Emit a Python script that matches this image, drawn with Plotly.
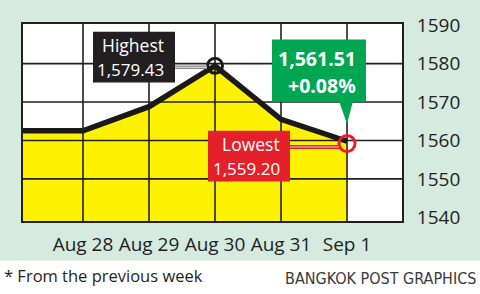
import plotly.graph_objects as go

# ---- data ----
categories = ["Aug 28", "Aug 29", "Aug 30", "Aug 31", "Sep 1"]
prev_week_close = 1562.5
values = [1562.5, 1568.8, 1579.43, 1565.5, 1559.8]
high_value = 1579.43
high_index = 2
low_value = 1559.20
low_index = 4
close_value = 1561.51
change_pct = 0.08
y_ticks = [1540, 1550, 1560, 1570, 1580, 1590]
grid_y = [1550, 1560, 1570, 1580]

# ---- layout constants ----
W, H = 480, 294
ML, MR, MT, MB = 23, 78, 16, 73
XMIN, XMAX = -0.909, 4.833
YMIN, YMAX = 1539.05, 1590.3
INK = "#231f20"
YELLOW = "#fff200"
RED = "#e4202a"
GREEN = "#00a651"
MINT = "#d5ebe0"
FONT = "Open Sans"

pw, ph = W - ML - MR, H - MT - MB
def px2x(px):
    return XMIN + (px - ML) / pw * (XMAX - XMIN)
def py2y(py):
    return YMAX - (py - MT) / ph * (YMAX - YMIN)
def px2paper(px):
    return (px - ML) / pw
def py2paper(py):
    return (H - MB - py) / ph

xs = [XMIN] + list(range(len(categories)))
ys = [prev_week_close] + values

fig = go.Figure()
# yellow area
fig.add_trace(go.Scatter(x=xs, y=ys, mode="lines", line=dict(width=0),
                         fill="tozeroy", fillcolor=YELLOW, hoverinfo="skip"))
# grid lines above fill
gx, gy = [], []
for i in range(len(categories)):
    gx += [i, i, None]
    gy += [YMIN, YMAX, None]
for v in grid_y:
    gx += [XMIN, XMAX, None]
    gy += [v, v, None]
fig.add_trace(go.Scatter(x=gx, y=gy, mode="lines", line=dict(color=INK, width=1.6),
                         hoverinfo="skip"))
# main line
fig.add_trace(go.Scatter(x=xs, y=ys, mode="lines",
                         line=dict(color="#1a1a1a", width=5.5)))
# high / low markers
fig.add_trace(go.Scatter(x=[high_index], y=[high_value], mode="markers",
                         marker=dict(symbol="circle-open", size=15, color="#1a1a1a",
                                     line=dict(width=3))))
fig.add_trace(go.Scatter(x=[low_index], y=[low_value], mode="markers",
                         marker=dict(symbol="circle-open", size=16, color=RED,
                                     line=dict(width=3))))

shapes = []
annotations = []
# Highest box
shapes.append(dict(type="line", xref="x", yref="y", x0=px2x(174), x1=px2x(207),
                   y0=high_value - 0.4, y1=high_value - 0.4,
                   line=dict(color="#8a8a8a", width=3.5), layer="above"))
shapes.append(dict(type="line", xref="x", yref="y", x0=px2x(174), x1=px2x(207),
                   y0=high_value - 0.4, y1=high_value - 0.4,
                   line=dict(color="#e8e8e8", width=1), layer="above"))
shapes.append(dict(type="rect", xref="x", yref="y", x0=px2x(93), x1=px2x(175),
                   y0=py2y(77), y1=py2y(24), fillcolor="#231f20", line=dict(width=0),
                   layer="above"))
annotations.append(dict(xref="x", yref="y", x=px2x(166), y=py2y(38), text="Highest",
                        xanchor="right", yanchor="middle", showarrow=False,
                        font=dict(family=FONT, size=17.5, color="white")))
annotations.append(dict(xref="x", yref="y", x=px2x(166), y=py2y(63),
                        text=f"{high_value:,.2f}",
                        xanchor="right", yanchor="middle", showarrow=False,
                        font=dict(family=FONT, size=17, color="white")))
# Lowest box
shapes.append(dict(type="line", xref="x", yref="y", x0=px2x(289), x1=px2x(340),
                   y0=py2y(144), y1=py2y(144),
                   line=dict(color=RED, width=4), layer="above"))
shapes.append(dict(type="line", xref="x", yref="y", x0=px2x(289), x1=px2x(339),
                   y0=py2y(144), y1=py2y(144),
                   line=dict(color="#ffd0b0", width=1), layer="above"))
shapes.append(dict(type="rect", xref="x", yref="y", x0=px2x(208), x1=px2x(290),
                   y0=py2y(180), y1=py2y(127), fillcolor=RED, line=dict(width=0),
                   layer="above"))
annotations.append(dict(xref="x", yref="y", x=px2x(282), y=py2y(141), text="Lowest",
                        xanchor="right", yanchor="middle", showarrow=False,
                        font=dict(family=FONT, size=17.5, color="white")))
annotations.append(dict(xref="x", yref="y", x=px2x(282), y=py2y(166),
                        text=f"{low_value:,.2f}",
                        xanchor="right", yanchor="middle", showarrow=False,
                        font=dict(family=FONT, size=17, color="white")))
# Close (green) box with pointer
shapes.append(dict(type="rect", xref="x", yref="y", x0=px2x(272), x1=px2x(366),
                   y0=py2y(97), y1=py2y(32), fillcolor=GREEN, line=dict(width=0),
                   layer="above"))
shapes.append(dict(type="path", xref="x", yref="y",
                   path=(f"M {px2x(339)},{py2y(96)} L {px2x(353)},{py2y(96)} "
                         f"L {low_index},{py2y(120)} Z"),
                   fillcolor=GREEN, line=dict(width=0), layer="above"))
annotations.append(dict(xref="x", yref="y", x=px2x(358), y=py2y(52),
                        text=f"<b>{close_value:,.2f}</b>",
                        xanchor="right", yanchor="middle", showarrow=False,
                        font=dict(family=FONT, size=19.5, color="white")))
annotations.append(dict(xref="x", yref="y", x=px2x(358), y=py2y(80),
                        text=f"<b>{change_pct:+.2f}%</b>",
                        xanchor="right", yanchor="middle", showarrow=False,
                        font=dict(family=FONT, size=19.5, color="white")))
# footer
shapes.append(dict(type="rect", xref="paper", yref="paper", x0=-0.3, x1=1.5,
                   y0=py2paper(262), y1=py2paper(320), fillcolor="white",
                   line=dict(width=0), layer="below"))
annotations.append(dict(xref="paper", yref="paper", x=px2paper(2), y=py2paper(278),
                        text="* From the previous week", xanchor="left", yanchor="middle",
                        showarrow=False, font=dict(family=FONT, size=16.5, color=INK)))
annotations.append(dict(xref="paper", yref="paper", x=px2paper(478), y=py2paper(281),
                        text="BANGKOK POST GRAPHICS", xanchor="right", yanchor="middle",
                        showarrow=False,
                        font=dict(family="Liberation Sans Narrow, DejaVu Sans Condensed",
                                  size=16, color="#3a3a3a")))

fig.update_layout(
    width=W, height=H,
    margin=dict(l=ML, r=MR, t=MT, b=MB, pad=0),
    paper_bgcolor=MINT, plot_bgcolor="white",
    showlegend=False,
    shapes=shapes, annotations=annotations,
    xaxis=dict(range=[XMIN, XMAX], tickmode="array",
               tickvals=list(range(len(categories))), ticktext=categories,
               showgrid=False, zeroline=False, showline=True, mirror=True,
               linecolor=INK, linewidth=2, ticks="", layer="above traces",
               ticklabelstandoff=5,
               tickfont=dict(family=FONT, size=19, color=INK)),
    yaxis=dict(range=[YMIN, YMAX], side="right", tickmode="array",
               tickvals=y_ticks, ticktext=[str(v) for v in y_ticks],
               showgrid=False, zeroline=False, showline=True, mirror=True,
               linecolor=INK, linewidth=2, ticks="", layer="above traces",
               ticklabelstandoff=9,
               tickfont=dict(family=FONT, size=19, color=INK)),
)

fig.write_html("out.html")
